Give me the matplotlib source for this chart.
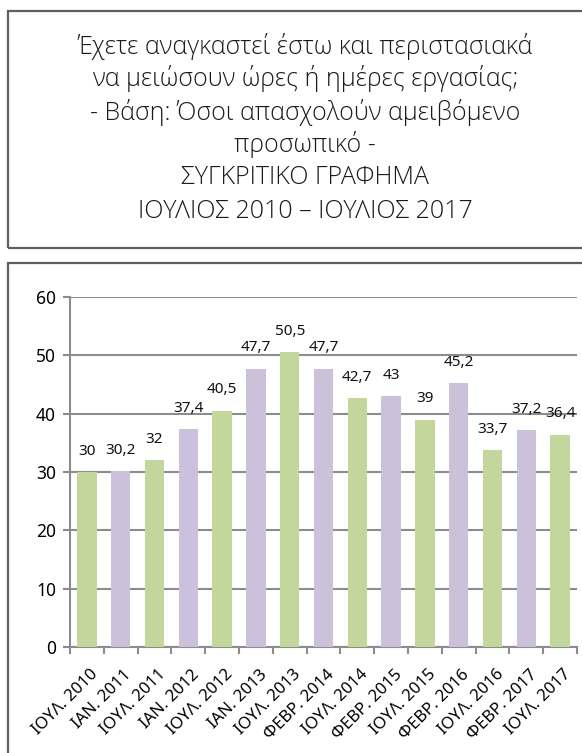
import matplotlib
matplotlib.use("Agg")
import matplotlib.pyplot as plt
from matplotlib.patches import Rectangle
import matplotlib.transforms as mtransforms
import numpy as np

# data
categories = ["ΙΟΥΛ. 2010", "ΙΑΝ. 2011", "ΙΟΥΛ. 2011", "ΙΑΝ. 2012", "ΙΟΥΛ. 2012",
              "ΙΑΝ. 2013", "ΙΟΥΛ. 2013", "ΦΕΒΡ. 2014", "ΙΟΥΛ. 2014", "ΦΕΒΡ. 2015",
              "ΙΟΥΛ. 2015", "ΦΕΒΡ. 2016", "ΙΟΥΛ. 2016", "ΦΕΒΡ. 2017", "ΙΟΥΛ. 2017"]
values = [30, 30.2, 32, 37.4, 40.5, 47.7, 50.5, 47.7, 42.7, 43, 39, 45.2, 33.7, 37.2, 36.4]
yticks = [0, 10, 20, 30, 40, 50, 60]

title_lines = [
    "Έχετε αναγκαστεί έστω και περιστασιακά",
    "να μειώσουν ώρες ή ημέρες εργασίας;",
    "- Βάση: Όσοι απασχολούν αμειβόμενο",
    "προσωπικό -",
    "ΣΥΓΚΡΙΤΙΚΟ ΓΡΑΦΗΜΑ",
    "ΙΟΥΛΙΟΣ 2010 – ΙΟΥΛΙΟΣ 2017",
]

green = "#c3d69b"
purple = "#ccc1da"
grid_col = "#8c8c8c"
box_col = "#5f5f5f"

W, H = 582, 753
fig = plt.figure(figsize=(W / 100, H / 100), dpi=100)

# boxes (pixel -> figure coords)
def px(x, y):
    return x / W, 1 - y / H

x0, y0 = px(8, 248)
fig.patches.append(Rectangle((x0, y0), 1.0, (248 - 11) / H, transform=fig.transFigure,
                             fill=False, ec=box_col, lw=1.6))
x0, y0 = px(8, 800)
fig.patches.append(Rectangle((x0, y0), 1.0, (800 - 263) / H, transform=fig.transFigure,
                             fill=False, ec=box_col, lw=1.6))

# title text
line_y = [46, 79, 112, 145, 178, 211]
for txt, ly in zip(title_lines, line_y):
    fx, fy = px(305, ly)
    fig.text(fx, fy, txt, ha="center", va="center", fontsize=18,
             family=["Open Sans", "DejaVu Sans"], fontweight="light", color="#1a1a1a")

# chart
ax = fig.add_axes([70 / W, 1 - 647 / H, (577 - 70) / W, (647 - 297) / H])
x = np.arange(len(values))
colors = [green if i % 2 == 0 else purple for i in range(len(values))]
ax.bar(x, values, width=0.57, color=colors, zorder=3)

for xi, v in zip(x, values):
    lab = ("%g" % v).replace(".", ",")
    ax.annotate(lab, (xi, v), xytext=(0, 15), textcoords="offset points",
                ha="center", va="center", fontsize=11, family="Noto Sans", color="#111111")

ax.set_xlim(-0.5, len(values) - 0.5)
ax.set_ylim(0, 60)
ax.set_yticks(yticks)
ax.set_yticklabels([str(t) for t in yticks], fontsize=12.5, family="Noto Sans")
ax.yaxis.grid(True, color=grid_col, lw=1.5, zorder=0)
ax.tick_params(axis="y", length=5, width=1.5, color=grid_col, pad=5)

ax.set_xticks(x)
ax.set_xticklabels(categories, rotation=45, ha="right", rotation_mode="anchor",
                   fontsize=12, family="Noto Sans")
ax.tick_params(axis="x", length=0, pad=14)
shift = mtransforms.ScaledTranslation(3 / 100, 0, fig.dpi_scale_trans)
for lbl in ax.get_xticklabels():
    lbl.set_transform(lbl.get_transform() + shift)
ax.set_xticks(np.arange(-0.5, len(values)), minor=True)
ax.tick_params(axis="x", which="minor", length=5, width=1.5, color=grid_col)

for s in ["top", "right"]:
    ax.spines[s].set_visible(False)
for s in ["left", "bottom"]:
    ax.spines[s].set_color(grid_col)
    ax.spines[s].set_linewidth(1.5)

fig.savefig("out.png", dpi=100)
